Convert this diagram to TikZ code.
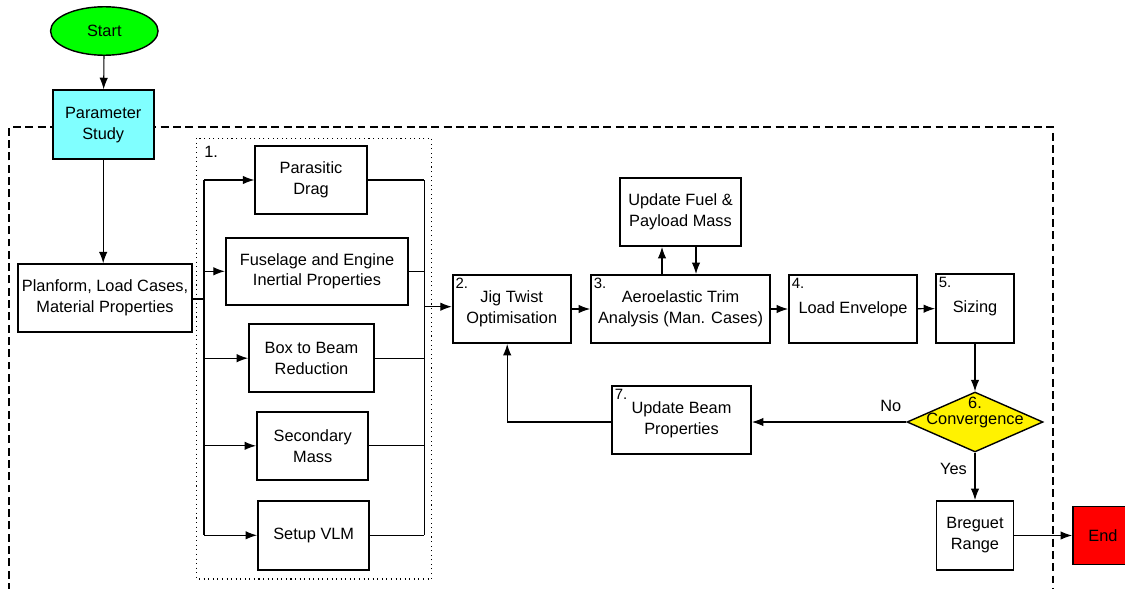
\documentclass[tikz,border=0pt]{standalone}
\usepackage{fontspec}
\setmainfont{Liberation Sans}
\usetikzlibrary{shapes.geometric,arrows.meta}
\definecolor{paramcyan}{RGB}{128,255,255}

\begin{document}
\begin{tikzpicture}[x=0.02cm,y=-0.02cm,
        font=\fontsize{9.3}{11.9}\selectfont,
        >={Latex[length=2.3mm,width=1.7mm]},
        box/.style={draw,line width=1.1pt,align=center,inner sep=0},
        num/.style={anchor=north west,inner sep=2pt,font=\fontsize{8.5}{10}\selectfont},
        conn/.style={line width=0.6pt}]
    \useasboundingbox (0,0) rectangle (1125,588);
    \clip (0,0) rectangle (1125,588);
    % frames
    \draw[line width=1.1pt,dash pattern=on 4.5pt off 2.5pt] (9.3,640) -- (9.3,127.3) -- (1053,127.3) -- (1053,640);
    \draw[dotted,line width=0.6pt] (196.7,138.3) rectangle (431.7,579);
    \node[anchor=west,inner sep=0] (n1) at (204,151.5) {1.};

    \node[draw,ellipse,fill=green,line width=0.8pt,minimum width=2.15cm,minimum height=0.97cm,inner sep=0] (start) at (104.3,31) {Start};
    \node[box,fill=paramcyan,minimum width=2.02cm,minimum height=1.38cm] (param) at (103.2,124.7) {Parameter\\Study};
    \node[box,minimum width=3.47cm,minimum height=1.35cm] (plan) at (105,298) {Planform, Load Cases,\\Material Properties};

    % parallel tasks
    \node[box,minimum width=2.23cm,minimum height=1.37cm] (drag) at (311,180) {Parasitic\\Drag};
    \node[box,minimum width=3.65cm,minimum height=1.35cm] (fus) at (317,271.3) {Fuselage and Engine\\Inertial Properties};
    \node[box,minimum width=2.5cm,minimum height=1.37cm] (b2b) at (311.5,358.2) {Box to Beam\\Reduction};
    \node[box,minimum width=2.23cm,minimum height=1.37cm] (sec) at (312.7,445.8) {Secondary\\Mass};
    \node[box,minimum width=2.23cm,minimum height=1.39cm] (vlm) at (313.7,535.3) {Setup VLM};

    \node[box,minimum width=2.36cm,minimum height=1.36cm] (jig) at (511.7,309) {Jig Twist\\Optimisation};
    \node[num] (n2) at (jig.north west) {2.};
    \node[box,minimum width=3.58cm,minimum height=1.36cm] (aero) at (680.5,309) {Aeroelastic Trim\\Analysis (Man. Cases)};
    \node[num] (n3) at (aero.north west) {3.};
    \node[box,minimum width=2.42cm,minimum height=1.36cm] (fuel) at (680.5,212) {Update Fuel \&\\Payload Mass};
    \node[box,minimum width=2.56cm,minimum height=1.36cm] (load) at (853,309) {Load Envelope};
    \node[num] (n4) at (load.north west) {4.};
    \node[box,minimum width=1.56cm,minimum height=1.38cm] (sizing) at (975,308.5) {Sizing};
    \node[num] (n5) at (sizing.north west) {5.};

    \node[draw,diamond,fill=yellow,line width=0.8pt,minimum width=2.72cm,minimum height=1.2cm,inner sep=0] (conv) at (975,422) {};
    \node[align=center,inner sep=0] (convtxt) at (975,412.4) {6.\\[-2.4pt]Convergence};
    \node[box,minimum width=2.78cm,minimum height=1.36cm] (beam) at (681.5,420) {Update Beam\\Properties};
    \node[num] (n7) at (beam.north west) {7.};

    \node[box,minimum width=1.54cm,minimum height=1.38cm] (breguet) at (975,535.5) {Breguet\\Range};
    \node[box,fill=red,minimum width=1.2cm,minimum height=1.16cm] (end) at (1103,535.5) {End};

    % connectors
    \draw[conn,->] (start) -- (param);
    \draw[conn,->] (param.south) -- (param.south |- plan.north);
    \coordinate (busL) at (204,299);
    \coordinate (busR) at (424.3,306.7);
    \draw[conn] (plan.east |- busL) -- (busL);
    \draw[conn] (busL |- drag.west) -- (busL |- vlm.west);
    \draw[conn] (busR |- drag.east) -- (busR |- vlm.east);
    \foreach \n in {drag,fus,b2b,sec,vlm} {
        \draw[conn,->] (busL |- \n.west) -- (\n.west);
        \draw[conn] (\n.east) -- (busR |- \n.east);
    }
    \draw[conn,->] (busR) -- (busR -| jig.west);
    \draw[conn,->] (jig) -- (aero);
    \draw[conn,->] ([xshift=-0.37cm]aero.north) -- ([xshift=-0.37cm]fuel.south);
    \draw[conn,->] ([xshift=0.31cm]fuel.south) -- ([xshift=0.31cm]aero.north);
    \draw[conn,->] (aero) -- (load);
    \draw[conn,->] (load) -- (sizing);
    \draw[conn,->] (sizing) -- (conv);
    \draw[conn,->] (conv.west) -- node[pos=0.1,above=2pt] (no) {No} (conv.west -| beam.east);
    \draw[conn,->] (conv.south) -- node[pos=0.35,left=1pt] (yes) {Yes} (breguet.north);
    \draw[conn,->] (beam.west |- conv.west) -| ([xshift=-0.09cm]jig.south);
    \draw[conn,->] (breguet) -- (end);
\end{tikzpicture}
\end{document}
